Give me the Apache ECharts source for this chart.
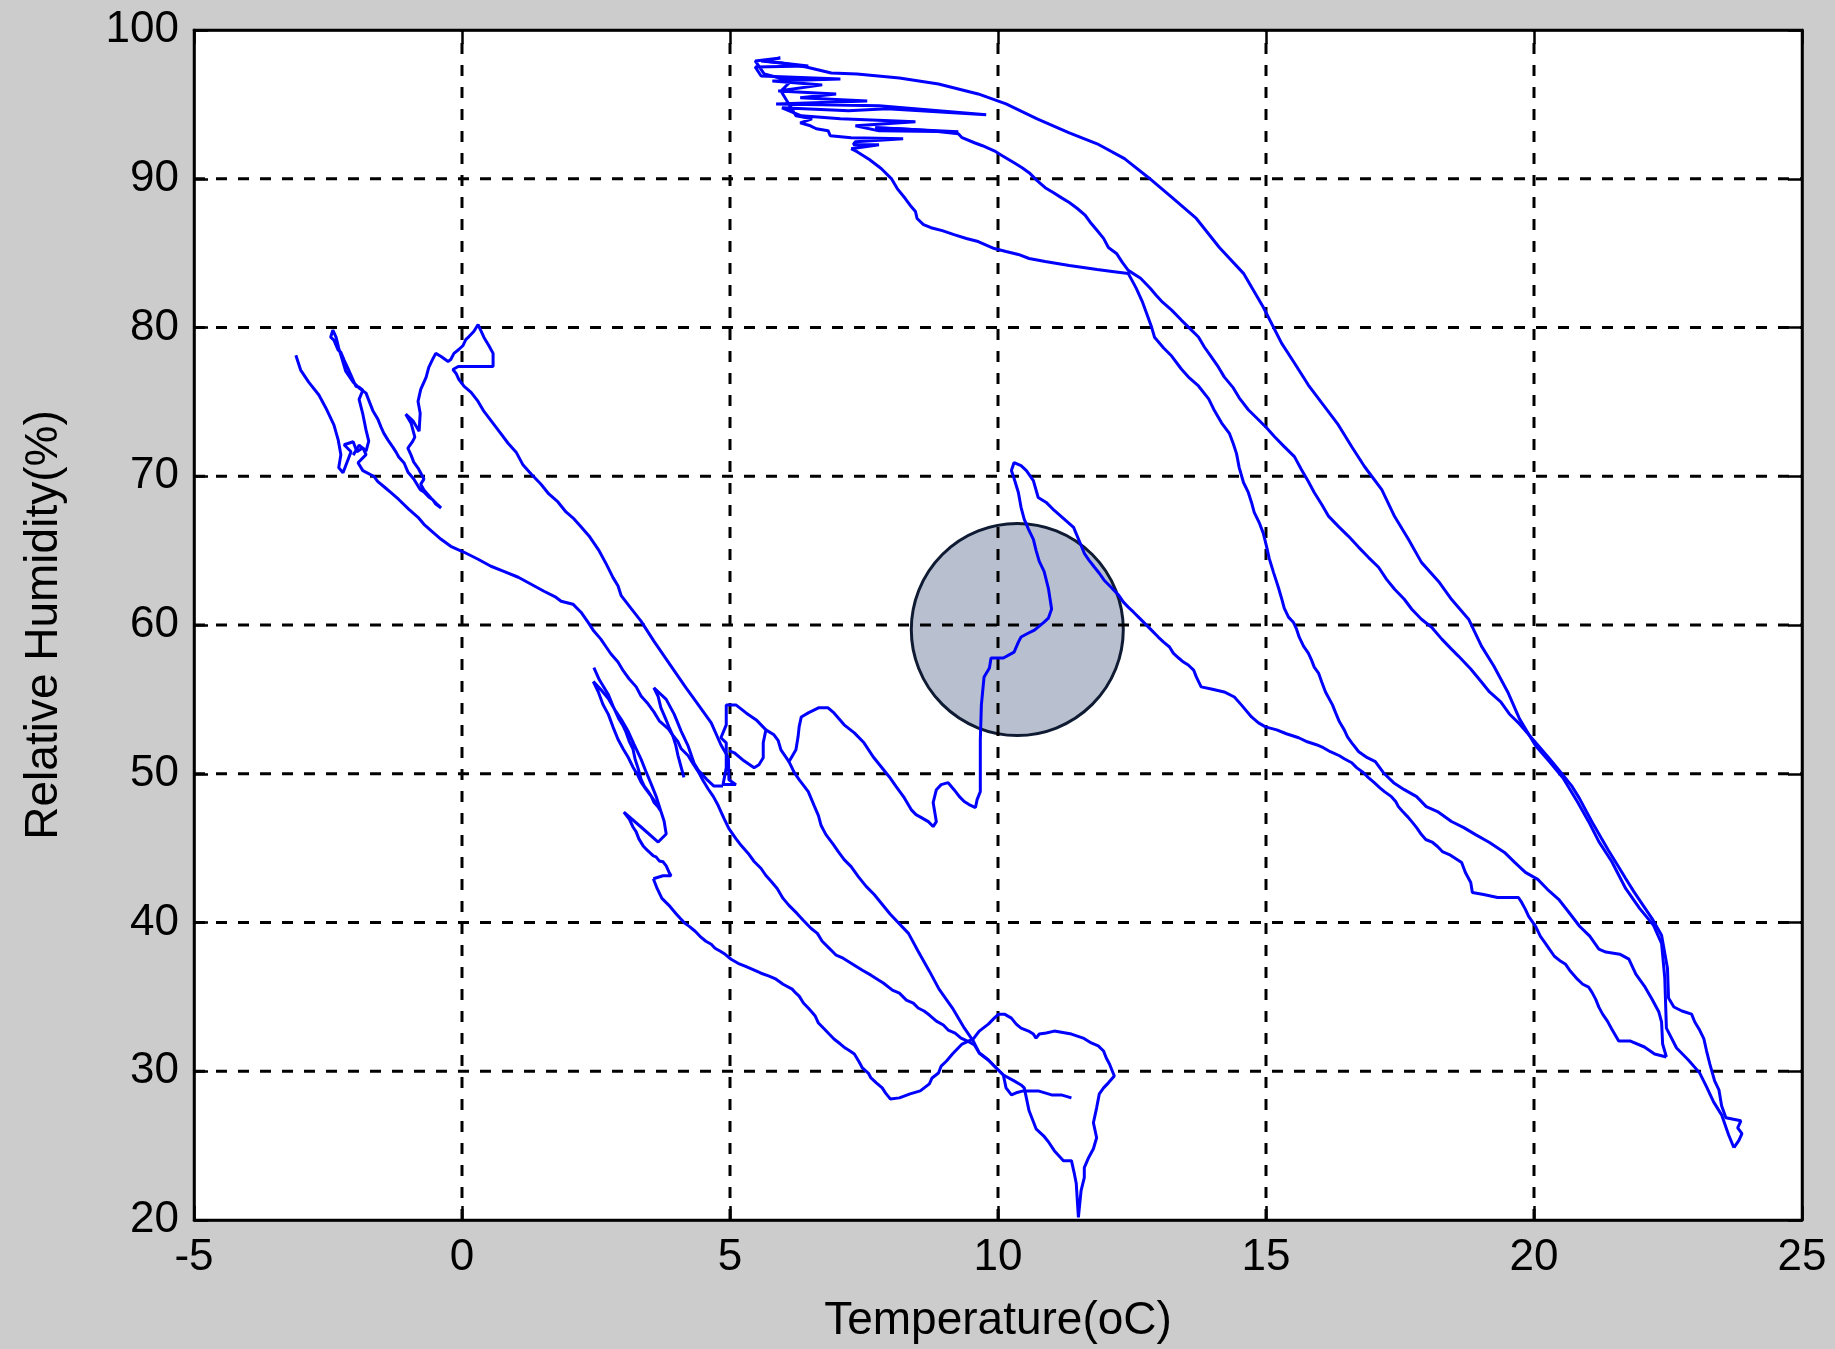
<!DOCTYPE html>
<html>
<head>
<meta charset="utf-8">
<script src="https://cdn.jsdelivr.net/npm/echarts@6/dist/echarts.min.js"></script>
<style>
  html, body { margin: 0; padding: 0; background: #cccccc; }
  #chart { width: 1835px; height: 1349px; }
</style>
</head>
<body>
<div id="chart"></div>
<script>
// axis ticks
const tempTicks = [-5, 0, 5, 10, 15, 20, 25];
const humidityTicks = [20, 30, 40, 50, 60, 70, 80, 90, 100];

// highlighted region (grey disc)
const markerCenter = [10.36, 59.7];

// trajectory pieces, [temperature, relative humidity]
const topCluster = [[7.71,93.43],[9.26,93.16],[7.78,93.22],[7.34,93.56],[8.46,93.83],[7.06,94.03],[6.33,94.23],[5.97,94.77],[7.21,94.57],[7.93,94.70],[9.78,94.30],[7.78,94.90],[5.86,95.03],[7.56,95.23],[6.31,95.44],[6.98,95.70],[5.90,95.90],[6.72,96.31],[5.79,96.57],[7.06,96.71],[5.58,96.91],[5.47,97.51],[6.46,97.58],[5.64,97.92],[5.94,98.12],[5.47,97.92],[5.64,97.04],[6.14,96.57],[5.95,95.90],[6.23,94.23],[6.53,94.03],[6.31,93.76],[6.50,93.56],[6.61,93.36],[6.83,93.23],[6.87,92.89],[7.26,92.76],[8.23,92.69],[7.34,92.49],[7.30,92.29],[7.78,92.29],[7.26,92.02]];

const warmDescent = [[5.58,97.92],[5.95,97.78],[6.42,97.51],[6.89,97.11],[7.37,97.04],[8.16,96.78],[8.89,96.37],[9.63,95.70],[10.15,95.03],[10.73,94.03],[11.33,93.09],[11.85,92.35],[12.36,91.35],[12.81,90.07],[13.25,88.73],[13.70,87.33],[14.13,85.38],[14.58,83.64],[14.95,81.36],[15.29,78.95],[15.53,77.61],[15.79,76.13],[16.04,74.93],[16.35,73.45],[16.60,71.98],[16.84,70.64],[17.16,69.10],[17.40,67.29],[17.66,65.75],[17.90,64.21],[18.22,62.93],[18.46,61.73],[18.78,60.39],[19.02,58.58],[19.25,57.24],[19.51,55.50],[19.73,53.69],[20.03,51.88],[20.29,50.80],[20.55,49.67],[20.81,48.12],[21.02,46.78],[21.21,45.44],[21.45,44.10],[21.71,42.29],[21.97,40.95],[22.23,39.81],[22.38,38.60],[22.44,36.26],[22.47,32.90],[22.66,31.56],[22.88,30.76],[23.09,29.89],[23.22,28.95],[23.35,27.94],[23.50,27.07],[23.63,25.73],[23.73,24.86]];

const warmReturn = [[23.73,24.86],[23.82,25.33],[23.88,25.80],[23.80,26.20],[23.86,26.67],[23.58,26.87],[23.50,27.68],[23.45,28.75],[23.37,29.35],[23.28,30.49],[23.22,31.36],[23.17,32.17],[23.09,32.77],[23.00,33.31],[22.94,33.84],[22.76,34.05],[22.61,34.32],[22.51,34.92],[22.49,36.93],[22.38,39.14],[22.20,40.28],[22.01,41.29],[21.86,42.09],[21.71,42.96],[21.54,43.97],[21.39,44.84],[21.26,45.64],[21.11,46.58],[20.98,47.45],[20.85,48.33],[20.70,49.20],[20.52,50.00],[20.29,51.01],[20.05,52.01],[19.73,53.35],[19.54,54.02],[19.38,54.83],[19.17,55.50],[19.02,56.17],[18.82,57.04],[18.59,57.91],[18.46,58.38],[18.28,59.05],[18.09,59.85],[17.90,60.39],[17.72,61.06],[17.58,61.73],[17.40,62.40],[17.25,63.07],[17.10,63.88],[16.91,64.55],[16.73,65.22],[16.54,65.96],[16.35,66.63],[16.17,67.30],[16.04,68.10],[15.90,68.91],[15.79,69.65],[15.66,70.45],[15.53,71.32],[15.34,71.99],[15.16,72.66],[15.01,73.26],[14.86,73.80],[14.67,74.47],[14.50,75.27],[14.39,75.94],[14.22,76.68],[14.11,77.35],[13.98,78.02],[13.85,78.69],[13.74,79.36],[13.61,79.82],[13.42,80.50],[13.24,81.17],[13.07,81.70],[12.95,82.17],[12.84,82.64],[12.66,83.31],[12.43,83.84],[12.32,84.38],[12.21,84.98],[12.06,85.38],[11.97,85.99],[11.85,86.52],[11.74,86.99],[11.63,87.53],[11.48,88.00],[11.33,88.40],[11.18,88.73],[11.03,89.07],[10.88,89.40],[10.73,89.87],[10.58,90.41],[10.45,90.74],[10.30,91.08],[10.08,91.55],[9.93,91.88],[9.71,92.22],[9.56,92.42],[9.33,92.76],[9.26,93.02],[8.75,93.23],[8.19,93.36],[7.71,93.43]];

const secondDescent = [[7.26,92.02],[7.37,91.82],[7.60,91.29],[7.82,90.69],[8.01,90.01],[8.12,89.34],[8.27,88.67],[8.38,88.13],[8.46,87.80],[8.49,87.33],[8.61,86.92],[8.75,86.71],[8.96,86.51],[9.18,86.24],[9.41,85.98],[9.63,85.78],[9.93,85.31],[10.15,85.11],[10.38,84.91],[10.58,84.64],[10.88,84.44],[11.33,84.17],[11.85,83.90],[12.13,83.77],[12.43,83.63],[12.51,83.10],[12.58,82.63],[12.69,81.76],[12.86,80.09],[12.92,79.35],[13.09,78.62],[13.24,78.08],[13.42,77.21],[13.57,76.61],[13.74,76.07],[13.93,75.20],[14.04,74.40],[14.17,73.59],[14.32,72.86],[14.39,72.19],[14.45,71.52],[14.50,70.58],[14.58,69.58],[14.67,68.91],[14.73,68.24],[14.78,67.57],[14.88,66.83],[14.95,66.16],[15.01,65.29],[15.06,64.48],[15.14,63.54],[15.23,62.54],[15.29,61.80],[15.34,61.13],[15.42,60.53],[15.51,60.19],[15.57,59.72],[15.62,59.18],[15.70,58.58],[15.79,58.11],[15.85,57.64],[15.90,57.17],[15.98,56.77],[16.04,56.17],[16.11,55.50],[16.24,54.63],[16.30,54.09],[16.37,53.49],[16.46,52.95],[16.52,52.48],[16.60,52.08],[16.73,51.48],[16.89,51.08],[17.04,50.81],[17.19,50.07],[17.38,49.40],[17.58,48.93],[17.81,48.46],[17.99,47.79],[18.20,47.46],[18.46,46.79],[18.69,46.38],[18.91,45.91],[19.17,45.38],[19.45,44.71],[19.64,44.04],[19.84,43.37],[20.07,42.90],[20.25,42.23],[20.46,41.56],[20.65,40.69],[20.85,39.75],[21.04,39.08],[21.21,38.21],[21.34,38.01],[21.60,37.87],[21.77,37.54],[21.90,36.53],[22.06,35.73],[22.20,34.86],[22.33,33.98],[22.38,33.31],[22.40,31.83],[22.47,30.96]];

const circleReturn = [[22.47,30.96],[22.25,31.16],[22.06,31.63],[21.80,32.03],[21.58,32.03],[21.45,32.84],[21.37,33.37],[21.28,33.84],[21.21,34.31],[21.15,34.85],[21.08,35.32],[21.02,35.65],[20.91,35.85],[20.81,36.19],[20.68,36.72],[20.59,37.19],[20.50,37.39],[20.38,37.73],[20.29,38.20],[20.20,38.67],[20.12,39.07],[20.03,39.74],[19.90,40.41],[19.84,40.88],[19.77,41.35],[19.71,41.68],[19.32,41.68],[19.06,41.88],[18.85,42.02],[18.82,42.69],[18.72,43.36],[18.65,44.03],[18.42,44.57],[18.29,44.77],[18.20,45.11],[18.11,45.38],[17.98,45.58],[17.90,45.91],[17.81,46.38],[17.72,46.78],[17.64,47.12],[17.55,47.46],[17.47,47.79],[17.42,48.13],[17.34,48.46],[17.21,48.80],[17.12,49.07],[17.02,49.40],[16.91,49.74],[16.82,50.07],[16.69,50.41],[16.60,50.74],[16.46,51.01],[16.37,51.21],[16.20,51.48],[16.07,51.75],[15.94,51.95],[15.77,52.15],[15.61,52.42],[15.38,52.69],[15.20,52.95],[14.99,53.15],[14.86,53.42],[14.73,53.82],[14.54,54.63],[14.41,55.16],[14.22,55.50],[13.98,55.70],[13.79,55.84],[13.70,56.51],[13.65,56.97],[13.55,57.31],[13.46,57.51],[13.37,57.78],[13.27,58.11],[13.20,58.52],[13.09,58.85],[12.99,59.19],[12.90,59.52],[12.77,59.99],[12.64,60.46],[12.53,60.86],[12.43,61.20],[12.34,61.54],[12.25,62.01],[12.11,62.54],[11.98,63.01],[11.89,63.48],[11.80,63.88],[11.70,64.35],[11.61,64.82],[11.55,65.36],[11.41,66.56],[11.22,67.17],[11.05,67.70],[10.90,68.24],[10.75,68.57],[10.66,69.71],[10.53,70.38],[10.43,70.72],[10.30,70.92],[10.25,70.38],[10.30,69.85],[10.38,68.91],[10.43,67.91],[10.49,67.10],[10.57,66.43],[10.66,65.76],[10.71,65.02],[10.77,64.28],[10.86,63.61],[10.94,62.47],[11.00,61.07],[10.94,60.46],[10.86,60.19],[10.77,59.92],[10.68,59.66],[10.57,59.46],[10.43,59.19],[10.38,58.85],[10.30,58.18],[10.10,57.78],[9.87,57.78],[9.84,57.11],[9.74,56.51],[9.69,54.63],[9.67,52.28],[9.67,48.80],[9.61,48.26],[9.58,47.73],[9.46,47.93],[9.37,48.13],[9.28,48.46],[9.18,48.93],[9.07,49.40],[8.94,49.27],[8.85,48.93],[8.79,48.06],[8.85,46.78],[8.79,46.45],[8.70,46.78],[8.57,47.05],[8.47,47.25],[8.38,47.59],[8.25,48.39],[8.10,49.13],[7.97,49.80],[7.82,50.47],[7.67,51.14],[7.50,52.08],[7.32,52.75],[7.13,53.29],[6.94,54.09],[6.83,54.43],[6.65,54.43],[6.46,54.09],[6.33,53.82],[6.29,53.15],[6.27,52.48],[6.23,51.61],[6.10,50.81],[6.20,50.07],[6.29,49.60],[6.46,48.80],[6.57,47.86],[6.65,47.19],[6.70,46.52],[6.79,45.91],[6.93,45.24],[7.02,44.77],[7.13,44.23],[7.26,43.76],[7.39,43.10],[7.54,42.43],[7.69,41.88],[7.99,40.55],[8.33,39.27],[8.51,38.07],[8.72,36.73],[8.90,35.52],[9.15,34.25],[9.37,32.91],[9.54,32.03],[9.65,31.23],[9.82,30.76],[9.93,30.35],[10.10,29.75],[10.30,29.35],[10.43,29.08],[10.49,28.88],[10.58,27.34],[10.66,26.61],[10.71,26.13],[10.85,25.66],[10.94,25.26],[11.05,24.66],[11.22,23.99],[11.37,23.99],[11.42,23.19],[11.46,22.45],[11.50,20.17],[11.55,21.98],[11.61,22.85],[11.61,23.52],[11.69,24.19],[11.78,24.79],[11.84,25.53],[11.78,26.54],[11.84,27.54],[11.89,28.48],[11.97,28.88],[12.06,29.22],[12.17,29.68],[12.08,30.49],[12.02,30.89],[11.97,31.36],[11.87,31.70],[11.74,31.90],[11.59,32.23],[11.37,32.50],[11.05,32.70],[10.90,32.57],[10.77,32.50],[10.71,32.23],[10.66,32.50],[10.57,32.70],[10.43,32.90],[10.34,33.17],[10.25,33.57],[10.12,33.84],[10.01,33.84],[9.93,33.57],[9.82,33.17],[9.65,32.70],[9.54,32.17],[9.33,31.83],[9.24,31.50],[9.15,31.16],[9.04,30.69],[8.94,30.35],[8.89,29.88],[8.77,29.55],[8.72,29.15],[8.55,28.68],[8.36,28.48],[8.16,28.21],[7.99,28.14],[7.90,28.55],[7.84,28.88],[7.73,29.22],[7.63,29.55],[7.58,29.88],[7.47,30.22],[7.41,30.62],[7.32,31.16],[7.24,31.36],[7.15,31.56],[7.06,31.83],[6.94,32.17],[6.85,32.50],[6.76,32.84],[6.65,33.24],[6.59,33.71],[6.51,34.05],[6.46,34.25],[6.37,34.59],[6.29,35.05],[6.23,35.25],[6.16,35.52],[5.99,35.85],[5.86,36.19],[5.73,36.39],[5.58,36.59],[5.41,36.86],[5.28,37.06],[5.15,37.26],[5.02,37.53],[4.91,37.86],[4.82,38.07],[4.72,38.27],[4.65,38.54],[4.55,38.74],[4.44,39.07],[4.35,39.41],[4.24,39.74],[4.16,39.94],[4.07,40.28],[3.99,40.61],[3.88,41.08],[3.73,41.62],[3.64,42.29],[3.57,42.94]];

const coldStartA = [[-3.10,78.14],[-3.01,77.14],[-2.86,76.33],[-2.67,75.46],[-2.54,74.59],[-2.39,73.45],[-2.31,72.45],[-2.26,71.45],[-2.30,70.58],[-2.22,70.24],[-2.07,71.65],[-2.20,72.12],[-2.03,72.32],[-1.96,71.65],[-1.85,71.92],[-1.79,71.45],[-1.94,70.91],[-1.85,70.38],[-1.64,69.98],[-1.57,69.64],[-1.46,69.31],[-1.33,68.91],[-1.18,68.44],[-0.99,67.77],[-0.82,67.24],[-0.71,66.77],[-0.54,66.23],[-0.39,65.76],[-0.21,65.29],[0.04,64.89],[0.30,64.42],[0.54,63.95],[0.78,63.61],[1.05,63.21],[1.29,62.74],[1.53,62.27],[1.75,61.87],[1.85,61.60],[2.07,61.40],[2.22,60.86],[2.35,60.19],[2.46,59.59],[2.59,59.05],[2.69,58.52],[2.78,58.05],[2.91,57.51],[3.01,56.91],[3.12,56.37],[3.25,55.84],[3.34,55.23],[3.47,54.70],[3.58,54.16],[3.68,53.56],[3.85,53.02],[3.94,52.55],[4.03,52.15],[4.09,51.68],[4.22,51.21],[4.31,50.67],[4.41,50.13],[4.50,49.53],[4.59,48.99],[4.69,48.46],[4.78,47.86],[4.83,47.46],[4.89,46.98],[4.98,46.31],[5.11,45.64],[5.21,45.17],[5.34,44.64],[5.45,44.10],[5.58,43.63],[5.67,43.16],[5.77,42.76],[5.88,42.29],[5.99,41.62],[6.10,41.15],[6.25,40.61],[6.37,40.14],[6.51,39.61],[6.63,39.27],[6.72,38.74],[6.89,38.13],[6.98,37.80],[7.11,37.60],[7.32,37.13],[7.47,36.79],[7.63,36.46],[7.77,36.13],[7.86,35.93],[8.03,35.45],[8.16,35.25],[8.29,34.78],[8.42,34.58],[8.51,34.25],[8.62,34.05],[8.72,33.78],[8.85,33.37],[8.98,33.11],[9.07,32.77],[9.20,32.57],[9.31,32.23],[9.43,32.03],[9.56,31.76],[9.65,31.23],[9.82,30.76],[9.93,30.35],[10.10,29.75],[10.15,28.88],[10.25,28.41],[10.34,28.55],[10.47,28.68],[10.75,28.68],[11.00,28.41],[11.18,28.41],[11.37,28.21]];

const coldStartB = [[-2.03,71.42],[-1.92,72.09],[-1.79,71.69],[-1.74,72.36],[-1.79,73.10],[-1.85,74.17],[-1.92,75.17],[-1.85,75.78],[-1.92,75.98],[-1.98,76.05],[-2.07,76.79],[-2.13,77.27],[-2.20,77.81],[-2.26,78.34],[-2.31,78.48],[-2.39,79.15],[-2.45,79.35],[-2.41,79.82],[-2.35,79.35],[-2.30,78.61],[-2.26,78.14],[-2.17,77.07],[-2.03,76.33],[-1.92,75.93],[-1.79,75.59],[-1.74,75.12],[-1.66,74.38],[-1.57,73.84],[-1.51,73.30],[-1.46,72.90],[-1.38,72.43],[-1.29,71.96],[-1.23,71.62],[-1.18,71.29],[-1.08,70.89],[-1.01,70.29],[-0.90,69.81],[-0.82,69.34],[-0.77,69.07],[-0.71,68.94],[-0.62,68.60],[-0.54,68.40],[-0.49,68.13],[-0.39,67.87],[-0.45,68.07],[-0.58,68.54],[-0.71,69.07],[-0.77,69.47],[-0.71,69.81],[-0.82,70.55],[-0.90,70.95],[-0.95,71.42],[-1.01,71.89],[-0.93,72.29],[-0.88,72.63],[-0.95,73.57],[-1.05,74.17],[-0.91,73.70],[-0.80,73.03],[-0.78,74.23],[-0.82,75.03],[-0.77,75.84],[-0.67,76.65],[-0.62,77.32],[-0.54,77.92],[-0.49,78.26],[-0.39,78.05],[-0.26,77.72],[-0.21,77.85],[-0.15,78.26],[-0.06,78.52],[0.02,78.79],[0.07,79.19],[0.13,79.39],[0.22,79.73],[0.30,80.20],[0.35,79.80],[0.41,79.33],[0.50,78.79],[0.58,78.26],[0.58,77.38],[-0.07,77.38],[-0.17,77.18],[-0.11,76.91],[-0.06,76.51],[0.04,76.04],[0.17,75.64],[0.30,75.03],[0.41,74.36],[0.58,73.56],[0.69,73.03],[0.86,72.22],[1.01,71.62],[1.14,70.75],[1.29,70.15],[1.47,69.48],[1.62,68.81],[1.79,68.27],[1.94,67.60],[2.09,67.13],[2.22,66.60],[2.37,65.99],[2.56,64.98],[2.69,64.11],[2.82,63.17],[2.91,62.64],[2.97,61.97],[3.15,61.13],[3.34,60.26],[3.58,58.92],[3.90,57.24],[4.18,55.77],[4.41,54.63],[4.65,53.42],[4.83,51.95],[4.97,51.08]];

const columnFive = [[4.97,51.08],[4.98,49.60],[5.11,49.27],[4.87,49.27],[4.93,50.40],[4.93,52.08],[4.83,52.42],[4.93,53.29],[4.93,54.63],[5.11,54.63],[5.30,54.09],[5.49,53.62],[5.67,52.95],[5.62,52.08],[5.62,51.08],[5.54,50.61],[5.45,50.40],[5.26,50.87],[5.08,51.41],[4.98,51.55]];

const humpLink = [[5.67,52.95],[5.82,52.62],[5.90,52.22],[5.95,51.61],[6.10,50.81]];

const jaggedLeft = [[2.46,57.14],[2.56,56.33],[2.65,55.80],[2.73,55.33],[2.82,54.53],[2.93,53.66],[3.01,53.19],[3.06,52.79],[3.12,52.18],[3.19,51.65],[3.23,50.98],[3.29,50.31],[3.34,49.64],[3.40,49.17],[3.47,48.83],[3.53,48.50],[3.58,48.09],[3.66,47.76],[3.71,47.49],[3.57,48.29],[3.43,48.96],[3.34,49.43],[3.27,49.97],[3.19,50.44],[3.10,51.11],[3.01,51.65],[2.91,52.32],[2.82,53.12],[2.73,53.99],[2.63,54.66],[2.54,55.53],[2.45,56.20],[2.59,55.66],[2.74,55.00],[2.87,54.19],[2.97,53.66],[3.10,52.85],[3.21,51.98],[3.34,50.98],[3.43,50.17],[3.53,49.30],[3.62,48.50],[3.71,47.49],[3.77,46.82],[3.81,45.95],[3.66,45.41],[3.34,46.42],[3.02,47.42],[3.12,46.96],[3.19,46.42],[3.25,46.09],[3.30,45.62],[3.38,45.15],[3.43,44.95],[3.49,44.75],[3.57,44.48],[3.62,44.41],[3.68,44.14],[3.75,44.08],[3.81,43.81],[3.86,43.40],[3.90,43.14],[3.75,43.14],[3.57,42.94]];

const jaggedRight = [[4.14,49.75],[4.09,50.42],[4.03,51.22],[3.99,51.89],[3.94,52.49],[3.86,53.16],[3.79,53.77],[3.71,54.44],[3.66,55.18],[3.58,55.78],[3.81,55.00],[3.96,53.99],[4.09,52.85],[4.22,51.85],[4.33,50.71],[4.41,50.24],[4.56,49.64],[4.70,49.17],[4.87,49.17]];

const tracks = [topCluster, warmDescent, warmReturn, secondDescent, circleReturn,
  coldStartA, coldStartB, columnFive, humpLink, jaggedLeft, jaggedRight];

const chart = echarts.init(document.getElementById('chart'));

const font = "'Liberation Sans', Arial, sans-serif";
const frame = { color: '#000', width: 2.5 };
const tMin = tempTicks[0], tMax = tempTicks[tempTicks.length - 1];
const hMin = humidityTicks[0], hMax = humidityTicks[humidityTicks.length - 1];

// dashed grid as plain line series
const dashStyle = { color: '#000', width: 3, type: [11, 11] };
const gridSeries = tempTicks.slice(1, -1).map(v => [[v, hMin], [v, hMax]])
  .concat(humidityTicks.slice(1, -1).map(v => [[tMin, v], [tMax, v]]))
  .map(d => ({
    type: 'line', data: d, symbol: 'none', showSymbol: false, silent: true,
    z: 4, lineStyle: dashStyle
  }));

// blue trajectory
const lineSeries = tracks.map(t => ({
  type: 'line',
  data: t,
  symbol: 'none',
  showSymbol: false,
  silent: true,
  z: 5,
  lineStyle: { color: '#0000ff', width: 3 }
}));

const option = {
  animation: false,
  backgroundColor: '#cccccc',
  grid: {
    left: 194, right: 33, top: 30, bottom: 127,
    show: true, backgroundColor: '#ffffff',
    borderColor: '#000', borderWidth: 2.5
  },
  xAxis: [{
    type: 'value', min: tMin, max: tMax, interval: 5,
    name: 'Temperature(oC)', nameLocation: 'middle', nameGap: 78,
    nameTextStyle: { fontFamily: font, fontSize: 46, color: '#000' },
    axisLine: { onZero: false, lineStyle: frame },
    axisTick: { inside: true, length: 14, lineStyle: frame },
    axisLabel: { fontFamily: font, fontSize: 44, color: '#000', margin: 16 },
    splitLine: { show: false }
  }, {
    type: 'value', position: 'top', min: tMin, max: tMax, interval: 5,
    axisLine: { onZero: false, lineStyle: frame },
    axisTick: { inside: true, length: 14, lineStyle: frame },
    axisLabel: { show: false },
    splitLine: { show: false }
  }],
  yAxis: [{
    type: 'value', min: hMin, max: hMax, interval: 10,
    name: 'Relative Humidity(%)', nameLocation: 'middle', nameGap: 127,
    nameTextStyle: { fontFamily: font, fontSize: 46, color: '#000' },
    axisLine: { onZero: false, lineStyle: frame },
    axisTick: { inside: true, length: 14, lineStyle: frame },
    axisLabel: { fontFamily: font, fontSize: 44, color: '#000', margin: 15 },
    splitLine: { show: false }
  }, {
    type: 'value', position: 'right', min: hMin, max: hMax, interval: 10,
    axisLine: { onZero: false, lineStyle: frame },
    axisTick: { inside: true, length: 14, lineStyle: frame },
    axisLabel: { show: false },
    splitLine: { show: false }
  }],
  series: [{
    // translucent fill (composites to #b8bfce on white) so whatever lies below can show through
    type: 'scatter',
    data: [markerCenter],
    symbol: 'circle',
    symbolSize: 212,
    silent: true,
    z: 0,
    itemStyle: { color: 'rgba(78,95,133,0.4)', borderColor: '#0f1a33', borderWidth: 3, opacity: 1 }
  }].concat(gridSeries, lineSeries)
};

chart.setOption(option);
</script>
</body>
</html>
